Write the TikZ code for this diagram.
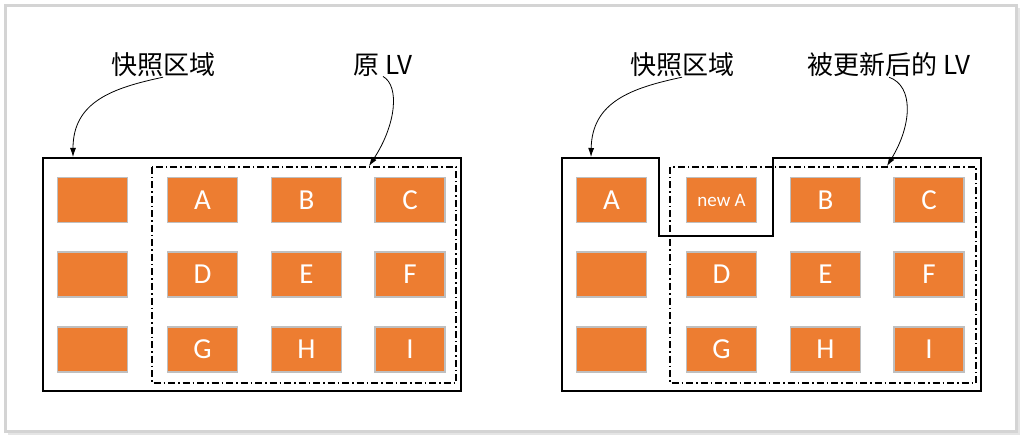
\documentclass[tikz,border=0pt]{standalone}
\usepackage{fontspec}
\setmainfont{Carlito}
\newfontfamily\cjk{Noto Sans CJK SC}
\usetikzlibrary{arrows.meta}
\definecolor{blockorange}{HTML}{ED7D31}
\definecolor{blockgray}{HTML}{BFBFBF}
\definecolor{framegray}{HTML}{D4D4D4}
\tikzset{%
  >={Latex[length=9pt,width=6pt]}, % filled arrow tips
  block/.style={draw=blockgray,line width=1.5pt,fill=blockorange,
    minimum width=70pt,minimum height=45pt,inner sep=0pt,text=white,
    font=\fontsize{29}{29}\selectfont},%
  region/.style={line width=1.6pt},%
  lvregion/.style={line width=1.1pt,dash pattern=on 7pt off 3pt on 1.5pt off 3pt},%
  tag/.style={font=\cjk\fontsize{26}{26}\selectfont,inner sep=0pt},%
  pointer/.style={->,line width=0.8pt}%
}
\begin{document}
\begin{tikzpicture}[x=1pt,y=-1pt] % before / after the update of A
\useasboundingbox (0,0) rectangle (1024,443);
\draw[framegray!60,line width=3pt] (8,433.5) -- (1018.5,433.5) -- (1018.5,8); % shadow
\draw[framegray,line width=3pt] (5.5,5.5) rectangle (1016,431);

% ---- left half: original LV ----
\draw[region] (43,158) rectangle (461,391);
\draw[lvregion] (152,167) rectangle (456,383);
\foreach \r/\y in {0/200,1/274.5,2/349.5}
  \node[block] (oldfree\r) at (92.5,\y) {};
\foreach \l/\x/\y in {A/202.5/200,B/306.5/200,C/410/200,
                      D/202.5/274.5,E/306.5/274.5,F/410/274.5,
                      G/202.5/349.5,H/306.5/349.5,I/410/349.5}
  \node[block] (old\l) at (\x,\y) {\l};

\node[tag] (oldsnap) at (163,65) {快照区域};
\node[tag] (oldlv) at (383,65) {原 LV};
\coordinate (oldsnapend) at (73,157);
\coordinate (oldlvend) at (369,166);
\draw[pointer] (oldsnap.south) .. controls (112,88) and (73,102) .. (oldsnapend);
\draw[pointer] (oldlv.south) .. controls (400,86) and (396,125) .. (oldlvend);

% ---- right half: LV after A was written ----
\draw[lvregion] (670,167) rectangle (976,383);
\draw[region] (562,158) -- (659,158) -- (659,236) -- (773,236) -- (773,158)
  -- (981,158) -- (981,391) -- (562,391) -- cycle;
\foreach \r/\y in {1/274.5,2/349.5}
  \node[block] (newfree\r) at (611.5,\y) {};
\node[block] (snapA) at (611.5,200) {A};
\node[block,font=\fontsize{19}{19}\selectfont] (newA) at (721.5,200) {new A};
\foreach \l/\x/\y in {B/825.5/200,C/929/200,
                      D/721.5/274.5,E/825.5/274.5,F/929/274.5,
                      G/721.5/349.5,H/825.5/349.5,I/929/349.5}
  \node[block] (new\l) at (\x,\y) {\l};

\node[tag] (newsnap) at (682,65) {快照区域};
\node[tag] (newlv) at (889,65) {被更新后的 LV};
\coordinate (newsnapend) at (591,157);
\coordinate (newlvend) at (887,166);
\draw[pointer] (newsnap.south) .. controls (631,88) and (592,102) .. (newsnapend);
\draw[pointer] (newlv.south) .. controls (914,86) and (912,125) .. (newlvend);
\end{tikzpicture}
\end{document}
